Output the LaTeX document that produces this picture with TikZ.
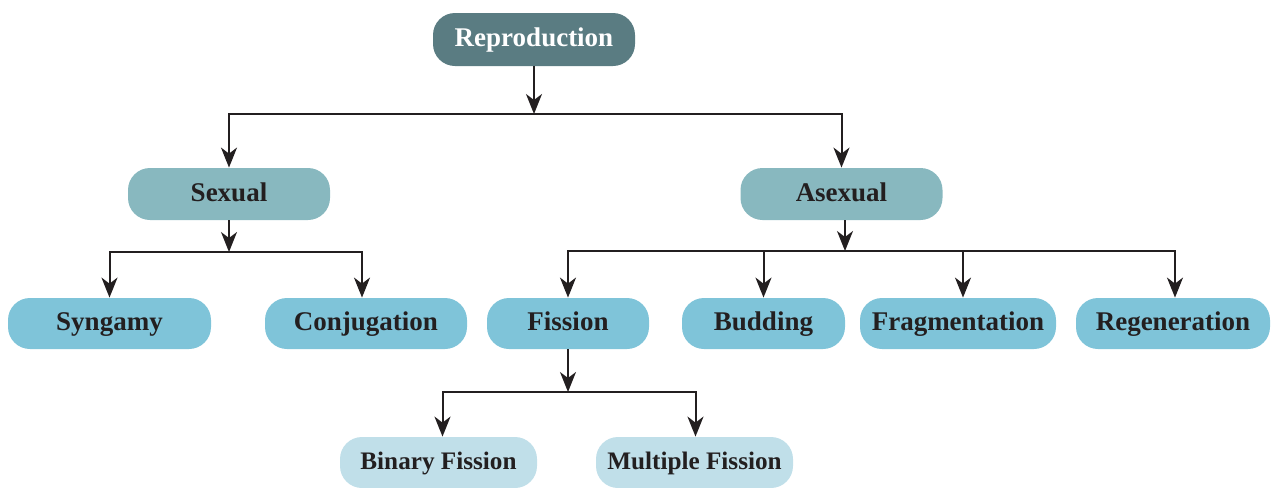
\documentclass[tikz,border=0pt]{standalone}
\usepackage{fontspec}
\setmainfont{Liberation Serif}
\usetikzlibrary{arrows.meta, positioning}
\definecolor{rootcol}{HTML}{5A7C82}
\definecolor{midcol}{HTML}{88B8BF}
\definecolor{leafcol}{HTML}{7FC4D9}
\definecolor{subcol}{HTML}{C0DFE9}
\definecolor{inkcol}{HTML}{231F20}
\tikzset{
    box/.style={
        rectangle,
        rounded corners=11pt,
        inner sep=0pt,
        text height=9.5pt,
        text depth=2.5pt,
        text=inkcol,
        font=\fontsize{13.5}{15}\selectfont\bfseries
    },
    rootbox/.style={box, fill=rootcol, text=white, minimum width=101pt, minimum height=26.5pt},
    midbox/.style={box, fill=midcol, minimum width=101pt, minimum height=26pt},
    leafbox/.style={box, fill=leafcol, minimum height=25.5pt},
    subbox/.style={box, fill=subcol, minimum width=98.5pt, minimum height=25.5pt,
        font=\fontsize{12.6}{14}\selectfont\bfseries},
    link/.style={
        draw=inkcol,
        line width=1pt,
        -{Stealth[length=10pt,width=8pt,inset=3pt]}
    }
}

\begin{document}
\begin{tikzpicture}[x=0.5pt,y=-0.5pt]
	\useasboundingbox (0,0) rectangle (1271,488);
	% boxes
	\node[rootbox] (repro) at (534,39.5) {Reproduction};
	\node[midbox] (sexual) at (229,194) {Sexual};
	\node[midbox] (asexual) at (841.5,194) {Asexual};
	\node[leafbox,minimum width=101.5pt] (syngamy) at (109.5,323.5) {Syngamy};
	\node[leafbox,minimum width=101pt] (conj) at (366,323.5) {Conjugation};
	\node[leafbox,minimum width=81pt] (fission) at (568,323.5) {Fission};
	\node[leafbox,minimum width=81.5pt] (budding) at (763.5,323.5) {Budding};
	\node[leafbox,minimum width=98pt] (frag) at (958,323.5) {Fragmentation};
	\node[leafbox,minimum width=97pt] (regen) at (1173,323.5) {Regeneration};
	\node[subbox] (binary) at (438.5,462.5) {Binary Fission};
	\node[subbox] (multiple) at (694.5,462.5) {Multiple Fission};
	% junctions
	\coordinate (j0) at (534,114);
	\coordinate (j1) at (229,252);
	\coordinate (j2) at (845,251);
	\coordinate (j3) at (568,392);
	% connectors
	\draw[link] (repro) -- (j0);
	\draw[link] (j0) -| (sexual);
	\draw[link] (j0) -| (asexual);
	\draw[link] (sexual) -- (j1);
	\draw[link] (j1) -| (syngamy);
	\draw[link] (j1) -| ([xshift=-2pt]conj.north);
	\draw[link] (asexual.south -| j2) -- (j2);
	\draw[link] (j2) -| (fission);
	\draw[link] (j2) -| (budding);
	\draw[link] (j2) -| ([xshift=2.5pt]frag.north);
	\draw[link] (j2) -| ([xshift=1pt]regen.north);
	\draw[link] (fission) -- (j3);
	\draw[link] (j3) -| ([xshift=2pt]binary.north);
	\draw[link] (j3) -| ([xshift=0.5pt]multiple.north);
\end{tikzpicture}
\end{document}
